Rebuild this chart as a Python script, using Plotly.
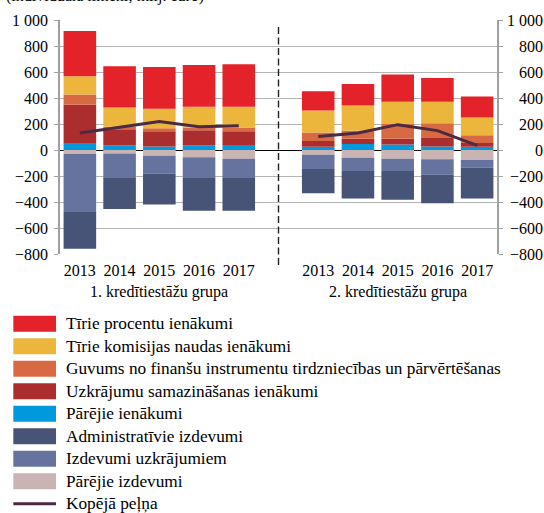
import plotly.graph_objects as go

# ---------------- data ----------------
years = ["2013", "2014", "2015", "2016", "2017"]
group_labels = ["1. kredītiestāžu grupa", "2. kredītiestāžu grupa"]
title_text = "(individuālā līmenī; milj. euro)"

series_names = [
    "Tīrie procentu ienākumi",
    "Tīrie komisijas naudas ienākumi",
    "Guvums no finanšu instrumentu tirdzniecības un pārvērtēšanas",
    "Uzkrājumu samazināšanas ienākumi",
    "Pārējie ienākumi",
    "Administratīvie izdevumi",
    "Izdevumi uzkrājumiem",
    "Pārējie izdevumi",
    "Kopējā peļņa",
]

# group 1 (2013..2017)
g1_procentu = [348, 318, 320, 321, 326]
g1_komisijas = [141, 147, 151, 159, 159]
g1_guvums = [77, 20, 23, 23, 30]
g1_uzkr_samaz = [301, 123, 118, 114, 111]
g1_parejie_ien = [48, 36, 26, 37, 33]
g1_admin = [-282, -239, -238, -252, -252]
g1_izd_uzkr = [-446, -189, -138, -159, -148]
g1_parejie_izd = [-31, -26, -44, -56, -67]
g1_pelna = [131, 175, 220, 179, 187]

# group 2 (2013..2017)
g2_procentu = [148, 166, 208, 182, 161]
g2_komisijas = [169, 194, 172, 167, 137]
g2_guvums = [65, 62, 114, 112, 60]
g2_uzkr_samaz = [45, 40, 44, 67, 28]
g2_parejie_ien = [25, 46, 42, 26, 25]
g2_admin = [-187, -212, -220, -220, -238]
g2_izd_uzkr = [-110, -103, -95, -118, -59]
g2_parejie_izd = [-36, -59, -67, -72, -77]
g2_pelna = [103, 131, 195, 149, 36]

y_tickvals = [-800, -600, -400, -200, 0, 200, 400, 600, 800, 1000]
y_ticktext = ["−800", "−600", "−400", "−200", "0", "200", "400", "600", "800", "1 000"]

# ---------------- styling ----------------
colors = {
    "procentu": "#e42229",
    "komisijas": "#ecb63d",
    "guvums": "#d86a43",
    "uzkr_samaz": "#ab2d2e",
    "parejie_ien": "#0099db",
    "admin": "#475478",
    "izd_uzkr": "#65739e",
    "parejie_izd": "#c9b3b3",
    "pelna": "#4b2a42",
}
FONT = "Liberation Serif, Times New Roman, serif"
FS = 16
FS_LEG = 17.3

x1 = list(range(5))
x2 = [6, 7, 8, 9, 10]
xall = x1 + x2

def cat(a, b):
    return list(a) + list(b)

fig = go.Figure()

bar_series = [
    ("parejie_ien", g1_parejie_ien, g2_parejie_ien, 4),
    ("uzkr_samaz", g1_uzkr_samaz, g2_uzkr_samaz, 3),
    ("guvums", g1_guvums, g2_guvums, 2),
    ("komisijas", g1_komisijas, g2_komisijas, 1),
    ("procentu", g1_procentu, g2_procentu, 0),
    ("parejie_izd", g1_parejie_izd, g2_parejie_izd, 7),
    ("izd_uzkr", g1_izd_uzkr, g2_izd_uzkr, 6),
    ("admin", g1_admin, g2_admin, 5),
]
for key, a, b, ni in bar_series:
    fig.add_trace(go.Bar(
        x=xall, y=cat(a, b), name=series_names[ni],
        marker=dict(color=colors[key], line=dict(width=0)),
        showlegend=False,
    ))

fig.add_trace(go.Scatter(
    x=x1 + [5] + x2, y=g1_pelna + [None] + g2_pelna,
    mode="lines", name=series_names[8],
    line=dict(color=colors["pelna"], width=3),
    connectgaps=False, showlegend=False,
))

# plot geometry in pixels
W, H = 544, 513
L, R, T, B = 57, 47, 19, 259
PW, PH = W - L - R, H - T - B

def px_x(px):
    return (px - L) / PW

def px_y(py):
    return (H - B - py) / PH

shapes = []
annotations = []

# dashed separator
shapes.append(dict(type="line", xref="x", yref="paper", x0=5, x1=5,
                   y0=px_y(265), y1=px_y(23),
                   line=dict(color="#222222", width=1.4, dash="7px,3.5px")))

# group labels
for gx, lab in zip([2, 8], group_labels):
    annotations.append(dict(x=gx, y=px_y(292), xref="x", yref="paper", text=lab,
                            showarrow=False, xanchor="center", yanchor="middle",
                            font=dict(family=FONT, size=FS, color="black")))

# right axis tick labels
for v, t in zip(y_tickvals, y_ticktext):
    annotations.append(dict(x=px_x(545), y=v, xref="paper", yref="y", text=t,
                            showarrow=False, xanchor="right", yanchor="middle",
                            font=dict(family=FONT, size=FS, color="black")))

# title (cut off at top)
annotations.append(dict(x=px_x(1), y=px_y(6), xref="paper", yref="paper", text=title_text,
                        showarrow=False, xanchor="left", yanchor="bottom",
                        font=dict(family=FONT, size=FS, color="black")))

# custom legend
legend_colors = [colors[k] for k in ["procentu", "komisijas", "guvums", "uzkr_samaz",
                                      "parejie_ien", "admin", "izd_uzkr", "parejie_izd"]]
row0, step = 324, 22.6
for i, name in enumerate(series_names):
    cy = row0 + i * step
    if i < 8:
        shapes.append(dict(type="rect", xref="paper", yref="paper",
                           x0=px_x(10), x1=px_x(53), y0=px_y(cy + 8), y1=px_y(cy - 8),
                           fillcolor=legend_colors[i], line=dict(width=0)))
    else:
        shapes.append(dict(type="line", xref="paper", yref="paper",
                           x0=px_x(10), x1=px_x(53), y0=px_y(cy), y1=px_y(cy),
                           line=dict(color=colors["pelna"], width=3)))
    annotations.append(dict(x=px_x(61), y=px_y(cy), xref="paper", yref="paper", text=name,
                            showarrow=False, xanchor="left", yanchor="middle",
                            font=dict(family=FONT, size=FS_LEG, color="black")))

fig.update_layout(
    width=W, height=H,
    margin=dict(l=L, r=R, t=T, b=B, pad=0),
    barmode="relative", bargap=0.18,
    plot_bgcolor="white", paper_bgcolor="white",
    font=dict(family=FONT, size=FS, color="black"),
    shapes=shapes, annotations=annotations,
    showlegend=False,
)
fig.update_xaxes(
    range=[-0.5, 10.5], tickvals=xall, ticktext=years + years,
    showgrid=False, zeroline=False, showline=False,
    ticks="outside", ticklen=2, tickcolor="rgba(0,0,0,0)",
    tickfont=dict(family=FONT, size=FS, color="black"),
)
fig.update_yaxes(
    range=[-800, 1000], tickvals=y_tickvals, ticktext=y_ticktext,
    showgrid=True, gridcolor="#b4b4b4", gridwidth=1,
    zeroline=True, zerolinecolor="#000000", zerolinewidth=1,
    showline=True, linecolor="#a0a0a0", linewidth=1.5, mirror="ticks",
    ticks="outside", ticklen=4, tickcolor="#a0a0a0", ticklabelstandoff=3,
    tickfont=dict(family=FONT, size=FS, color="black"),
)

fig.write_html(
    "out.html",
    config={"displayModeBar": False},
    post_script="document.body.style.margin='0';document.body.style.overflow='hidden';",
)
